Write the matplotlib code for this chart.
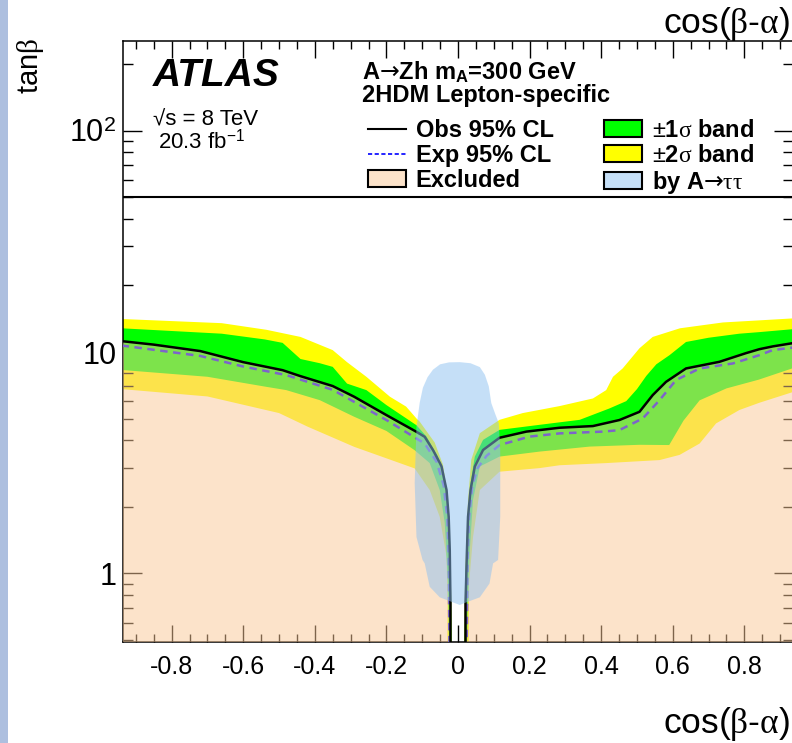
import matplotlib
matplotlib.use("Agg")
import matplotlib.pyplot as plt
from matplotlib.lines import Line2D
from matplotlib.patches import Patch, Rectangle
from matplotlib.ticker import FixedLocator, FixedFormatter, LogLocator, MultipleLocator, NullFormatter

plt.rcParams["font.family"] = ["Liberation Sans", "DejaVu Sans"]
plt.rcParams["mathtext.fontset"] = "custom"
plt.rcParams["mathtext.rm"] = "Liberation Sans"
plt.rcParams["mathtext.it"] = "Liberation Serif"
plt.rcParams["mathtext.bf"] = "Liberation Sans:bold"
plt.rcParams["mathtext.sf"] = "Liberation Sans"
plt.rcParams["mathtext.tt"] = "DejaVu Sans"  # only used for the long arrows

# --- limit contours in the (cos(b-a), tan b) plane ---
# left branches run from the left edge down to the bottom,
# right branches run from the bottom up to the right edge
obs_left_x = [-0.94, -0.85, -0.72, -0.60, -0.49, -0.44, -0.35, -0.29, -0.20, -0.116, -0.093,
              -0.070, -0.051, -0.046, -0.032, -0.026, -0.023, -0.021, -0.021]
obs_left_y = [11.2, 10.8, 10.1, 9.0, 8.28, 7.78, 7.02, 6.28, 5.19, 4.36, 4.14,
              3.61, 3.16, 3.04, 2.38, 1.80, 1.27, 0.73, 0.45]
obs_right_x = [0.021, 0.021, 0.025, 0.028, 0.035, 0.047, 0.070, 0.116, 0.191, 0.284, 0.377,
               0.451, 0.507, 0.544, 0.581, 0.637, 0.73, 0.805, 0.842, 0.879, 0.94]
obs_right_y = [0.45, 0.73, 1.27, 1.80, 2.38, 3.04, 3.61, 4.10, 4.37, 4.55, 4.63,
               4.93, 5.37, 6.39, 7.33, 8.43, 9.03, 9.89, 10.3, 10.6, 11.0]

exp_left_x = [-0.94, -0.72, -0.60, -0.48, -0.35, -0.20, -0.093, -0.060, -0.040, -0.030, -0.026, -0.024]
exp_left_y = [10.7, 9.6, 8.6, 7.87, 6.75, 4.93, 3.86, 3.2, 2.5, 1.8, 1.2, 0.45]
exp_right_x = [0.024, 0.027, 0.031, 0.040, 0.055, 0.080, 0.116, 0.20, 0.284, 0.405, 0.451,
               0.516, 0.563, 0.609, 0.675, 0.768, 0.842, 0.879, 0.94]
exp_right_y = [0.45, 1.2, 1.8, 2.5, 3.0, 3.4, 3.8, 4.15, 4.29, 4.37, 4.44,
               5.01, 6.06, 7.47, 8.43, 8.88, 9.68, 10.2, 10.5]

# +2 sigma / -2 sigma edges
up2_left_x = [-0.94, -0.66, -0.535, -0.44, -0.35, -0.31, -0.256, -0.19, -0.145, -0.116, -0.107,
              -0.065, -0.042, -0.030, -0.024, -0.020, -0.017]
up2_left_y = [14.1, 13.5, 12.6, 11.7, 10.2, 9.0, 7.73, 6.28, 5.67, 5.01, 4.85,
              3.9, 3.1, 2.3, 1.6, 1.0, 0.45]
dn2_left_x = [-0.94, -0.70, -0.50, -0.42, -0.29, -0.20, -0.121, -0.079, -0.051, -0.032, -0.029, -0.030]
dn2_left_y = [6.8, 6.3, 5.3, 4.6, 3.73, 3.31, 2.98, 2.38, 1.80, 1.19, 0.70, 0.45]
up2_right_x = [0.017, 0.020, 0.025, 0.028, 0.037, 0.061, 0.116, 0.181, 0.284, 0.377, 0.414,
               0.433, 0.46, 0.507, 0.544, 0.62, 0.74, 0.842, 0.94]
up2_right_y = [0.45, 1.0, 1.6, 2.15, 3.26, 4.30, 4.94, 5.30, 5.70, 6.17, 6.73,
               7.73, 8.43, 10.4, 11.7, 12.8, 13.6, 13.9, 14.2]
dn2_right_x = [0.030, 0.031, 0.042, 0.061, 0.116, 0.228, 0.284, 0.414, 0.563, 0.619, 0.675,
               0.721, 0.786, 0.842, 0.94]
dn2_right_y = [0.45, 0.90, 1.46, 2.38, 2.88, 2.99, 3.08, 3.15, 3.25, 3.43, 3.86,
               4.76, 5.47, 5.9, 6.63]

# +1 sigma / -1 sigma edges
up1_left_x = [-0.94, -0.66, -0.54, -0.49, -0.44, -0.386, -0.35, -0.31, -0.256, -0.20, -0.116,
              -0.088, -0.056, -0.036, -0.025, -0.020, -0.018]
up1_left_y = [12.8, 12.1, 11.4, 11.0, 9.3, 8.9, 8.57, 7.2, 6.73, 5.76, 4.67,
              4.15, 3.37, 2.55, 1.7, 1.0, 0.45]
dn1_left_x = [-0.94, -0.70, -0.535, -0.48, -0.386, -0.29, -0.20, -0.121, -0.079, -0.051, -0.037,
              -0.028, -0.025]
dn1_left_y = [8.3, 7.73, 6.96, 6.73, 6.06, 5.1, 4.4, 3.6, 3.15, 2.38, 1.69, 0.90, 0.45]
up1_right_x = [0.018, 0.021, 0.026, 0.035, 0.047, 0.070, 0.116, 0.228, 0.34, 0.423, 0.47,
               0.50, 0.526, 0.554, 0.591, 0.637, 0.70, 0.786, 0.842, 0.94]
up1_right_y = [0.45, 1.0, 1.6, 2.55, 3.37, 4.01, 4.45, 4.69, 4.94, 5.56, 6.0,
               6.8, 7.8, 8.8, 9.68, 11.1, 11.6, 12.1, 12.3, 12.7]
dn1_right_x = [0.025, 0.030, 0.033, 0.042, 0.061, 0.116, 0.228, 0.368, 0.507, 0.59, 0.63,
               0.675, 0.75, 0.84, 0.94]
dn1_right_y = [0.45, 1.0, 1.27, 2.15, 3.04, 3.37, 3.55, 3.74, 3.81, 3.8, 4.9,
               6.05, 6.85, 7.5, 8.5]

# region excluded by the A -> tautau search
tau_x = [0.005, 0.035, 0.061, 0.075, 0.086, 0.093, 0.105, 0.114, 0.118, 0.118, 0.112, 0.098,
         0.088, 0.061, 0.023, 0.005, -0.051, -0.079, -0.093, -0.099, -0.116, -0.121, -0.116,
         -0.107, -0.098, -0.085, -0.070, -0.050, -0.025]
tau_y = [9.0, 8.9, 8.55, 7.9, 7.0, 5.88, 5.2, 4.77, 3.6, 1.80, 1.15, 1.11,
         0.90, 0.78, 0.74, 0.72, 0.78, 0.87, 1.11, 1.15, 1.46, 2.56, 4.6,
         5.9, 6.9, 7.7, 8.32, 8.8, 8.98]

legend_top = 50.0
x_range = (-0.935, 0.935)
y_range = (0.49, 254)

yellow = "#ffff00"
green = "#00ff00"
excl_col = (250 / 255, 200 / 255, 150 / 255, 0.5)
tau_col = (141 / 255, 193 / 255, 241 / 255, 0.5)

W, H = 792, 743
fig = plt.figure(figsize=(W / 100, H / 100), dpi=100)
ax = fig.add_axes([123.3 / W, 1 - 642 / H, (792.7 - 123.3) / W, (642 - 41) / H])

# slide background strip on the left
fig.patches.append(Rectangle((0, 0), 7.5 / W, 1, transform=fig.transFigure,
                             facecolor="#adbfdf", edgecolor="none", zorder=0))


def band(ux, uy, dx, dy, color, z):
    ax.fill(ux + dx[::-1], uy + dy[::-1], color=color, lw=0, zorder=z)


for ux, uy, dx, dy in [(up2_left_x, up2_left_y, dn2_left_x, dn2_left_y),
                       (up2_right_x, up2_right_y, dn2_right_x, dn2_right_y)]:
    band(ux, uy, dx, dy, yellow, 1)
for ux, uy, dx, dy in [(up1_left_x, up1_left_y, dn1_left_x, dn1_left_y),
                       (up1_right_x, up1_right_y, dn1_right_x, dn1_right_y)]:
    band(ux, uy, dx, dy, green, 2)

exp_kw = dict(color="#0000ff", lw=1.8, dashes=(3, 2.2), zorder=3)
ax.plot(exp_left_x, exp_left_y, **exp_kw)
ax.plot(exp_right_x, exp_right_y, **exp_kw)

# excluded area below the observed contour
ax.fill(obs_left_x + [obs_left_x[0]], obs_left_y + [obs_left_y[-1]], color=excl_col, lw=0, zorder=4)
ax.fill(obs_right_x + [obs_right_x[-1]], obs_right_y + [obs_right_y[0]], color=excl_col, lw=0, zorder=4)

ax.plot(obs_left_x, obs_left_y, color="black", lw=1.8, zorder=5)
ax.plot(obs_right_x, obs_right_y, color="black", lw=1.8, zorder=5)

ax.fill(tau_x, tau_y, color=tau_col, lw=0, zorder=6)

ax.axhline(legend_top, color="black", lw=1.5, zorder=7)

ax.set_xlim(*x_range)
ax.set_yscale("log")
ax.set_ylim(*y_range)

ax.set_xticks([-0.8, -0.6, -0.4, -0.2, 0, 0.2, 0.4, 0.6, 0.8])
ax.set_xticklabels(["-0.8", "-0.6", "-0.4", "-0.2", "0", "0.2", "0.4", "0.6", "0.8"])
ax.xaxis.set_minor_locator(MultipleLocator(0.05))
ax.yaxis.set_major_locator(FixedLocator([1, 10, 100]))
ax.yaxis.set_major_formatter(FixedFormatter(["1", "10", "$10^2$"]))
ax.yaxis.set_minor_locator(LogLocator(base=10, subs=range(2, 10)))
ax.yaxis.set_minor_formatter(NullFormatter())

ax.tick_params(axis="both", which="both", direction="in", top=True, right=True, width=1.0)
ax.tick_params(axis="x", which="major", length=12, labelsize=18, pad=9)
ax.tick_params(axis="x", which="minor", length=6)
ax.tick_params(axis="y", which="major", length=14, labelsize=22, pad=5)
ax.tick_params(axis="y", which="minor", length=7)
for s in ax.spines.values():
    s.set_linewidth(1.1)

# axis titles, ROOT style at the ends of the axes
fig.text(790 / W, 1 - 33 / H, r"cos($\beta$-$\alpha$)", ha="right", va="baseline", fontsize=25.5)
fig.text(790 / W, 1 - 733 / H, r"cos($\beta$-$\alpha$)", ha="right", va="baseline", fontsize=25.5)
fig.text(30 / W, 1 - 38 / H, r"tan$\beta$", ha="center", va="top", rotation=90, fontsize=21)

fig.text(153 / W, 1 - 86 / H, "ATLAS", fontsize=28, fontweight="bold", style="italic", va="baseline")
fig.text(153 / W, 1 - 125 / H, "√s = 8 TeV", fontsize=16, va="baseline")
fig.text(158 / W, 1 - 149 / H, r"20.3 fb$^{-1}$", fontsize=16, va="baseline")

fig.text(362 / W, 1 - 80 / H, r"A$\mathtt{→}$Zh m$_{\mathbf{A}}$=300 GeV", fontsize=17,
         fontweight="bold", va="baseline")
fig.text(362 / W, 1 - 102 / H, "2HDM Lepton-specific", fontsize=17, fontweight="bold", va="baseline")

h_obs = Line2D([], [], color="black", lw=1.5)
h_exp = Line2D([], [], color="#0000ff", lw=1.2, dashes=(2.5, 1.5))
h_excl = Patch(facecolor=excl_col, edgecolor="black", lw=1.5)
h_g = Patch(facecolor=green, edgecolor="black", lw=1.5)
h_y = Patch(facecolor=yellow, edgecolor="black", lw=1.5)
h_tau = Patch(facecolor=tau_col, edgecolor="black", lw=1.5)

leg_kw = dict(loc="upper left", frameon=False, prop={"weight": "bold", "size": 17},
              borderpad=0, borderaxespad=0, handlelength=1.6, handleheight=0.72,
              handletextpad=0.42, labelspacing=0.08)
leg1 = fig.legend([h_obs, h_exp, h_excl], ["Obs 95% CL", "Exp 95% CL", "Excluded"],
                  bbox_to_anchor=(368 / W, 1 - 119 / H), **leg_kw)
leg2 = fig.legend([h_g, h_y, h_tau],
                  [r"$\pm$1$\sigma$ band", r"$\pm$2$\sigma$ band", r"by A$\mathtt{→}\tau\tau$"],
                  bbox_to_anchor=(604 / W, 1 - 119 / H), **leg_kw)

fig.savefig("out.png", dpi=100)
